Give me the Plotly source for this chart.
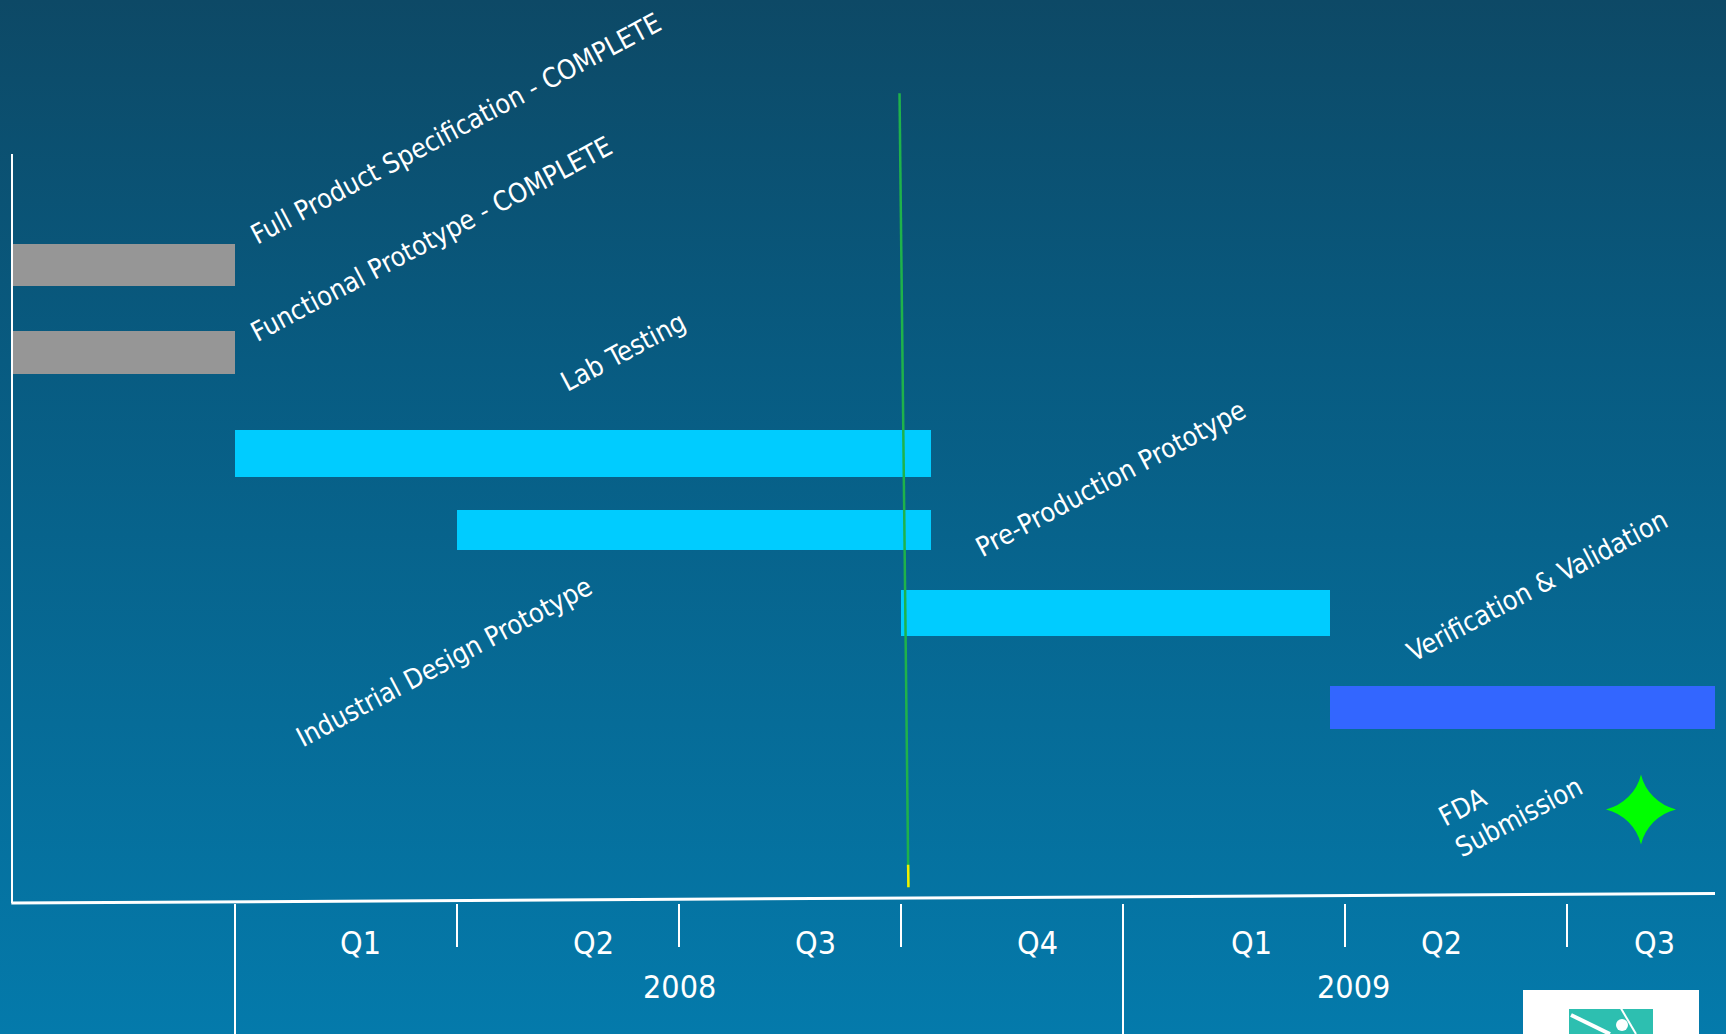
import base64
import plotly.graph_objects as go

# ---------------- data (x in months since Oct 2007, y = row position) ----------------
task_names = [
    "Full Product Specification - COMPLETE",
    "Functional Prototype - COMPLETE",
    "Lab Testing",
    "Industrial Design Prototype",
    "Pre-Production Prototype",
    "Verification & Validation",
]
task_start = [0, 0, 3, 6, 12, 17.8]
task_end = [3, 3, 12.4, 12.4, 17.8, 23]
task_row = [8.52, 7.35, 6.0, 4.98, 3.87, 2.61]
task_thickness = [0.57, 0.57, 0.62, 0.54, 0.62, 0.57]
task_colors = ["#969696", "#969696", "#00CCFF", "#00CCFF", "#00CCFF", "#3366FF"]

# label placement (centre of the rotated text)
label_x = [5.98, 5.66, 8.25, 5.83, 14.83, 20.6]
label_y = [10.34, 8.87, 7.36, 3.22, 5.67, 4.24]

milestone_name = "FDA<br>Submission"
milestone_x = [22]
milestone_row = [1.25]
milestone_label_x = 20.24
milestone_label_y = 1.36

today_x = [11.98, 12.1]
today_y = [10.81, 0.21]

quarter_labels = ["Q1", "Q2", "Q3", "Q4", "Q1", "Q2", "Q3"]
quarter_label_x = [4.70, 7.84, 10.85, 13.85, 16.74, 19.3, 22.18]
year_labels = ["2008", "2009"]
year_label_x = [9.0, 18.12]
quarter_bounds_short = [6, 9, 12, 18, 21]
year_bounds = [3, 15]

X_MAX = 23
Y_MAX = 10

W, H = 1726, 1034
ML, MR, MT, MB = 13, 11, 154, 131
PW = W - ML - MR
PH = H - MT - MB

FONT = "Liberation Sans Narrow, Arial Narrow, DejaVu Sans Condensed, sans-serif"


def py_to_paper(py):
    return (H - MB - py) / PH


def px_to_paper(px):
    return (px - ML) / PW


def yv_to_paper(v):
    return v / Y_MAX


fig = go.Figure()

# bars
fig.add_trace(go.Bar(
    orientation="h",
    y=task_row,
    base=task_start,
    x=[e - s for s, e in zip(task_start, task_end)],
    width=task_thickness,
    marker=dict(color=task_colors, line=dict(width=0)),
    hoverinfo="skip",
    showlegend=False,
))

# milestone star
fig.add_trace(go.Scatter(
    x=milestone_x, y=milestone_row, mode="markers",
    marker=dict(symbol="star-diamond", size=50, color="#00FF00", line=dict(width=0)),
    hoverinfo="skip", showlegend=False, cliponaxis=False,
))

annotations = []
for name, lx, ly in zip(task_names, label_x, label_y):
    annotations.append(dict(
        x=lx, y=yv_to_paper(ly), xref="x", yref="paper", text=name, showarrow=False,
        textangle=-28, font=dict(family=FONT, size=27, color="white"),
        xanchor="center", yanchor="middle",
    ))
annotations.append(dict(
    x=milestone_label_x, y=yv_to_paper(milestone_label_y), xref="x", yref="paper",
    text=milestone_name, showarrow=False, align="left",
    textangle=-28, font=dict(family=FONT, size=27, color="white"),
    xanchor="center", yanchor="middle",
))
for q, qx in zip(quarter_labels, quarter_label_x):
    annotations.append(dict(
        x=qx, y=py_to_paper(943), xref="x", yref="paper", text=q,
        showarrow=False, font=dict(family=FONT, size=32, color="white"),
        xanchor="center", yanchor="middle",
    ))
for yl, yx in zip(year_labels, year_label_x):
    annotations.append(dict(
        x=yx, y=py_to_paper(987), xref="x", yref="paper", text=yl,
        showarrow=False, font=dict(family=FONT, size=32, color="white"),
        xanchor="center", yanchor="middle",
    ))

shapes = []
# today line (green, yellow tip at the bottom)
shapes.append(dict(type="line", xref="x", yref="paper",
                   x0=today_x[0], y0=yv_to_paper(today_y[0]),
                   x1=today_x[1], y1=yv_to_paper(today_y[1]),
                   line=dict(color="#1fb24a", width=2.5)))
shapes.append(dict(type="line", xref="x", yref="paper",
                   x0=today_x[1] - (today_x[1] - today_x[0]) * 0.03,
                   y0=yv_to_paper(today_y[1] + 0.3),
                   x1=today_x[1], y1=yv_to_paper(today_y[1]),
                   line=dict(color="#f0f000", width=2.5)))
# tilted x axis line
shapes.append(dict(type="line", xref="paper", yref="paper",
                   x0=-0.001, y0=py_to_paper(903), x1=1.0, y1=py_to_paper(893.5),
                   line=dict(color="white", width=3)))
for b in quarter_bounds_short:
    shapes.append(dict(type="line", xref="x", yref="paper",
                       x0=b, x1=b, y0=py_to_paper(904), y1=py_to_paper(947),
                       line=dict(color="white", width=2)))
for b in year_bounds:
    shapes.append(dict(type="line", xref="x", yref="paper",
                       x0=b, x1=b, y0=py_to_paper(904), y1=py_to_paper(1040),
                       line=dict(color="white", width=2)))

# logo (white tile with teal emblem)
shapes.append(dict(type="rect", xref="paper", yref="paper", layer="above",
                   x0=px_to_paper(1523), x1=px_to_paper(1699),
                   y0=py_to_paper(1040), y1=py_to_paper(990),
                   fillcolor="white", line=dict(width=0)))
shapes.append(dict(type="rect", xref="paper", yref="paper", layer="above",
                   x0=px_to_paper(1569), x1=px_to_paper(1653),
                   y0=py_to_paper(1040), y1=py_to_paper(1009),
                   fillcolor="#2dbfb0", line=dict(width=0)))
shapes.append(dict(type="circle", xref="paper", yref="paper", layer="above",
                   x0=px_to_paper(1616), x1=px_to_paper(1628),
                   y0=py_to_paper(1031), y1=py_to_paper(1019),
                   fillcolor="white", line=dict(width=0)))
shapes.append(dict(type="line", xref="paper", yref="paper", layer="above",
                   x0=px_to_paper(1571), y0=py_to_paper(1015),
                   x1=px_to_paper(1610), y1=py_to_paper(1034),
                   line=dict(color="white", width=4)))
shapes.append(dict(type="line", xref="paper", yref="paper", layer="above",
                   x0=px_to_paper(1619), y0=py_to_paper(1005),
                   x1=px_to_paper(1636), y1=py_to_paper(1034),
                   line=dict(color="white", width=2)))

# background gradient as an inline SVG image
svg = (
    '<svg xmlns="http://www.w3.org/2000/svg" width="1726" height="1034" preserveAspectRatio="none">'
    '<defs><linearGradient id="g" x1="0" y1="0" x2="0" y2="1">'
    '<stop offset="0" stop-color="#0d4966"/>'
    '<stop offset="0.35" stop-color="#085b81"/>'
    '<stop offset="0.7" stop-color="#066c98"/>'
    '<stop offset="1" stop-color="#047aab"/>'
    '</linearGradient></defs>'
    '<rect width="1726" height="1034" fill="url(#g)"/></svg>'
)
svg_uri = "data:image/svg+xml;base64," + base64.b64encode(svg.encode()).decode()

fig.update_layout(
    width=W, height=H,
    margin=dict(l=ML, r=MR, t=MT, b=MB, pad=0),
    paper_bgcolor="#07618a",
    plot_bgcolor="rgba(0,0,0,0)",
    bargap=0,
    xaxis=dict(range=[0, X_MAX], showgrid=False, zeroline=False,
               showticklabels=False, showline=False, ticks="", fixedrange=True),
    yaxis=dict(range=[0, Y_MAX], showgrid=False, zeroline=False,
               showticklabels=False, showline=True, linecolor="white",
               linewidth=2, ticks="", fixedrange=True),
    annotations=annotations,
    shapes=shapes,
    images=[dict(source=svg_uri, xref="paper", yref="paper",
                 x=-ML / PW, y=1 + MT / PH, sizex=W / PW, sizey=H / PH,
                 xanchor="left", yanchor="top", sizing="stretch", layer="below")],
)

fig.write_html("out.html")
